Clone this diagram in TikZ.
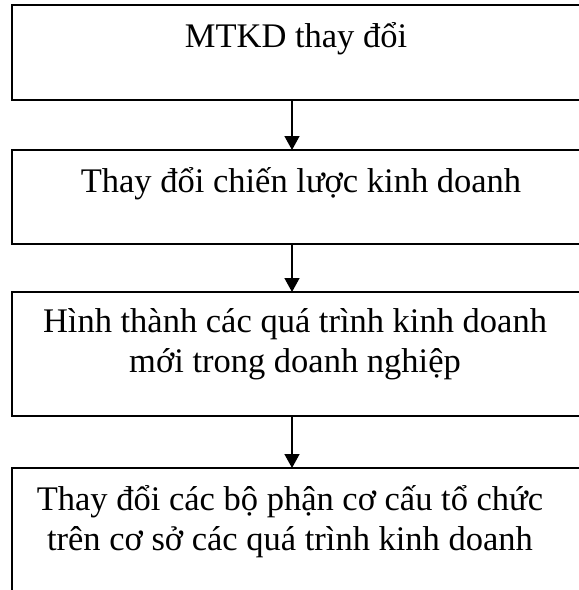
\documentclass[tikz,border=0pt]{standalone}
\usepackage{fontspec}
\setmainfont{Liberation Serif}
\usetikzlibrary{arrows.meta}

\begin{document}
\begin{tikzpicture}[
  x=1pt, y=-1pt,
  box/.style={draw, line width=1.5pt, rectangle, outer sep=0pt, inner sep=0pt, minimum width=588pt},
  label/.style={anchor=base, inner sep=0pt, align=center, font=\fontsize{34.5}{40}\selectfont},
  flow/.style={line width=1.5pt, -{Triangle[width=15pt,length=14pt]}}
]
\useasboundingbox (0,0) rectangle (579,590);
\clip (0,0) rectangle (579,590);

% boxes of the process chain (they run on past the right and bottom edges)
\node[box, minimum height=95pt]  (b1) at (306,52.5) {};
\node[box, minimum height=94pt]  (b2) at (306,197)  {};
\node[box, minimum height=124pt] (b3) at (306,354)  {};
\node[box, minimum height=152pt] (b4) at (306,544)  {};

% captions (base anchor sits on the last line)
\node[label] (t1) at (296,47)  {MTKD thay đổi};
\node[label] (t2) at (301,192) {Thay đổi chiến lược kinh doanh};
\node[label] (t3) at (295,372) {Hình thành các quá trình kinh doanh\\mới trong doanh nghiệp};
\node[label] (t4) at (290,550) {Thay đổi các bộ phận cơ cấu tổ chức\\trên cơ sở các quá trình kinh doanh};

% connectors
\coordinate (ax) at (292,0);
\draw[flow] (ax |- b1.south) -- (ax |- b2.north);
\draw[flow] (ax |- b2.south) -- (ax |- b3.north);
\draw[flow] (ax |- b3.south) -- (ax |- b4.north);
\end{tikzpicture}
\end{document}
